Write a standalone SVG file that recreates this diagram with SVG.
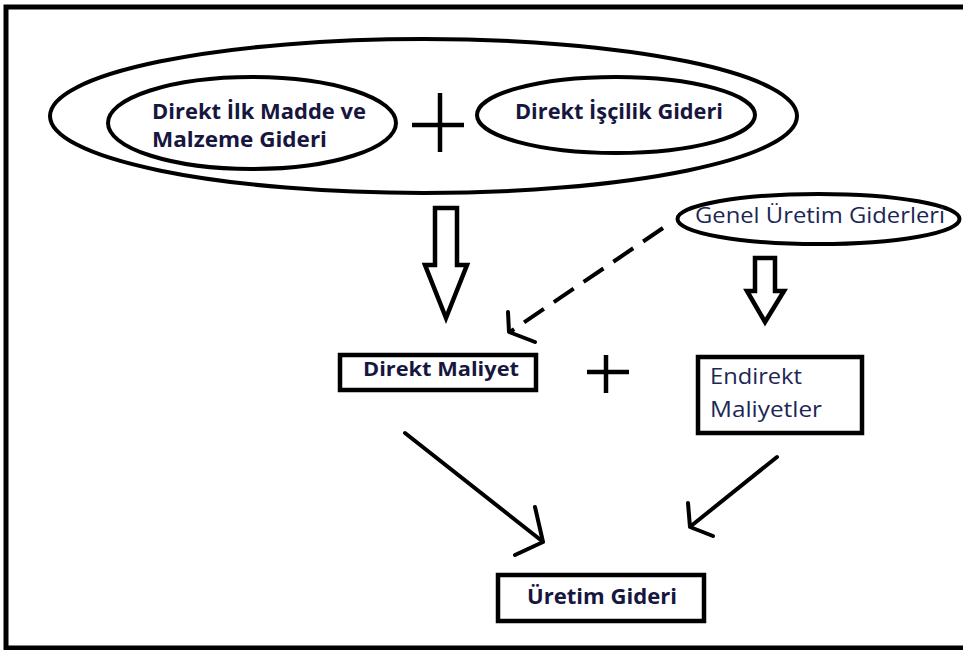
<svg xmlns="http://www.w3.org/2000/svg" width="963" height="650" viewBox="0 0 963 650">
  <style>
    .frame { fill: none; stroke: #000; stroke-width: 5; }
    .shape { fill: none; stroke: #000; stroke-width: 4; }
    .box { fill: #fff; stroke: #000; stroke-width: 4.5; }
    .block { fill: #fff; stroke: #000; stroke-width: 4.5; stroke-linejoin: miter; }
    .line { fill: none; stroke: #000; stroke-width: 4; stroke-linecap: round; stroke-linejoin: round; }
    .dash { fill: none; stroke: #000; stroke-width: 4; stroke-dasharray: 24 12; }
    .op { stroke: #000; stroke-width: 4.5; }
    .bold { font-family: "Open Sans", "Liberation Sans", sans-serif; font-weight: bold; fill: #16163e; }
    .reg { font-family: "Open Sans", "Liberation Sans", sans-serif; font-weight: normal; fill: #1c2755; }
  </style>

  <rect width="963" height="650" fill="#fff"/>
  <!-- outer frame (open on the right) -->
  <rect class="frame" x="6" y="7" width="980" height="641"/>

  <!-- direct costs group: outer ellipse with two inner ellipses -->
  <g id="direct-group">
    <ellipse class="shape" cx="423.5" cy="116" rx="373.5" ry="77"/>
  </g>

  <g id="direct-material">
    <ellipse class="shape" cx="252" cy="123" rx="144" ry="46"/>
    <text class="bold" x="152" y="119" font-size="21" textLength="214" lengthAdjust="spacingAndGlyphs">Direkt İlk Madde ve</text>
    <text class="bold" x="152" y="147" font-size="21" textLength="175" lengthAdjust="spacingAndGlyphs">Malzeme Gideri</text>
  </g>

  <g id="plus-top">
    <line class="op" x1="440" y1="93" x2="440" y2="152"/>
    <line class="op" x1="412" y1="125" x2="464" y2="125"/>
  </g>

  <g id="direct-labor">
    <ellipse class="shape" cx="616" cy="115" rx="139" ry="38"/>
    <text class="bold" x="515" y="119" font-size="21" textLength="208" lengthAdjust="spacingAndGlyphs">Direkt İşçilik Gideri</text>
  </g>

  <g id="overhead">
    <ellipse class="shape" cx="818.5" cy="219" rx="141" ry="25"/>
    <text class="reg" x="695" y="223" font-size="21" textLength="250" lengthAdjust="spacingAndGlyphs">Genel Üretim Giderleri</text>
  </g>

  <g id="direct-cost">
    <rect class="box" x="340" y="355" width="196" height="35"/>
    <text class="bold" x="363" y="376" font-size="20" textLength="156" lengthAdjust="spacingAndGlyphs">Direkt Maliyet</text>
  </g>

  <g id="plus-mid">
    <line class="op" x1="606" y1="355" x2="606" y2="393"/>
    <line class="op" x1="587" y1="372" x2="629" y2="372"/>
  </g>

  <g id="indirect-cost">
    <rect class="box" x="698" y="357" width="164" height="76"/>
    <text class="reg" x="710" y="384" font-size="22" textLength="92" lengthAdjust="spacingAndGlyphs">Endirekt</text>
    <text class="reg" x="710" y="417" font-size="22" textLength="112" lengthAdjust="spacingAndGlyphs">Maliyetler</text>
  </g>

  <g id="production-cost">
    <rect class="box" x="498" y="575" width="206" height="46"/>
    <text class="bold" x="527" y="604" font-size="21" textLength="150" lengthAdjust="spacingAndGlyphs">Üretim Gideri</text>
  </g>

  <g id="connectors">
    <!-- hollow block arrows -->
    <polygon class="block" points="435,208 457,208 457,265 467,265 446,318 425,265 435,265"/>
    <polygon class="block" points="755,258 775,258 775,291 784,291 765,322 747,291 755,291"/>
    <!-- dashed link from overhead to direct cost -->
    <line class="dash" x1="663" y1="228" x2="510" y2="332"/>
    <polyline class="line" points="508,312 509,332 535,342"/>
    <!-- solid arrows into production cost -->
    <line class="line" x1="405" y1="433" x2="542" y2="541"/>
    <polyline class="line" points="535,507 543,542 515,555"/>
    <line class="line" x1="777" y1="457" x2="691" y2="526"/>
    <polyline class="line" points="688,503 690,527 713,536"/>
  </g>
</svg>
